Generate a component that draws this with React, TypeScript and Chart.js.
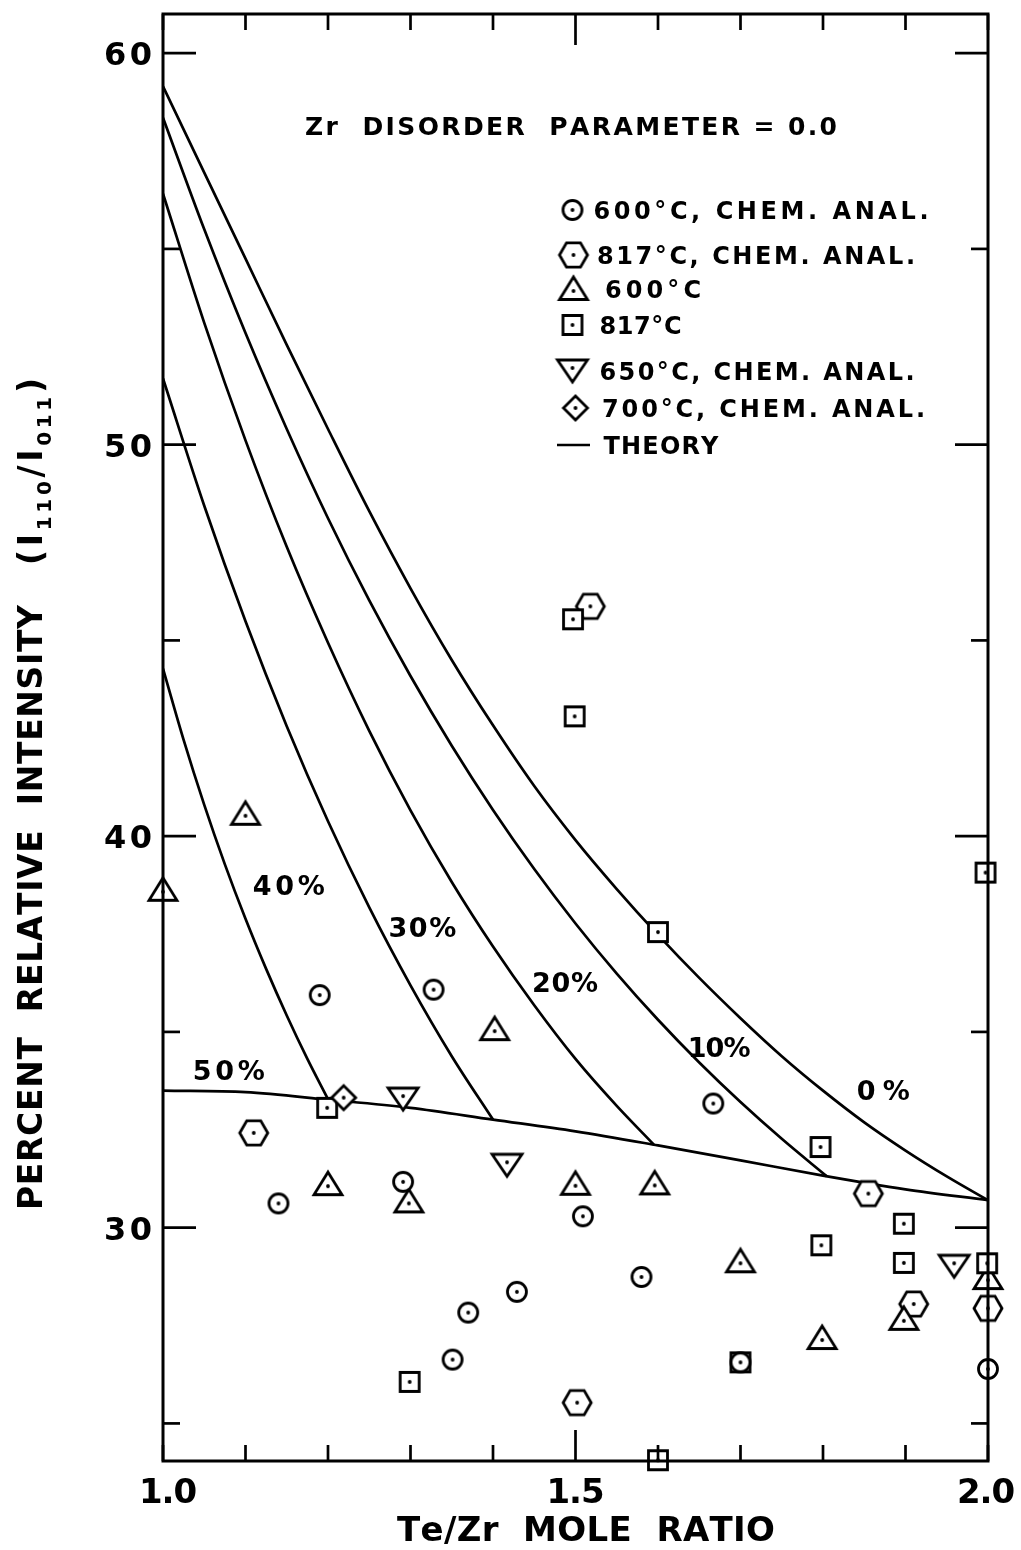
import React, { useEffect, useRef } from "react";
import { Chart, registerables } from "chart.js";

Chart.register(...registerables);

// ---- axes ----
const xTicks = [1.0, 1.1, 1.2, 1.3, 1.4, 1.5, 1.6, 1.7, 1.8, 1.9, 2.0];
const xLabels = [1.0, 1.5, 2.0];
const xLabelText = ["1.0", "1.5", "2.0"];
const yTicks = [25, 30, 35, 40, 45, 50, 55, 60];
const yLabels = [30, 40, 50, 60];

// ---- theory curves (percent Te disorder) ----
const theory0X = [1.0, 1.05, 1.1, 1.15, 1.2, 1.25, 1.3, 1.35, 1.4, 1.45, 1.5, 1.55, 1.6, 1.65, 1.7, 1.75, 1.8, 1.85, 1.9, 1.95, 2.0];
const theory0Y = [59.15, 56.95, 54.75, 52.55, 50.4, 48.3, 46.33, 44.5, 42.83, 41.28, 39.9, 38.65, 37.48, 36.38, 35.35, 34.38, 33.5, 32.69, 31.97, 31.31, 30.7];
const theory10X = [1.0, 1.05, 1.1, 1.15, 1.2, 1.25, 1.3, 1.35, 1.4, 1.45, 1.5, 1.55, 1.6, 1.65, 1.7, 1.75, 1.8047];
const theory10Y = [58.35, 55.5, 52.85, 50.4, 48.12, 46.02, 44.09, 42.31, 40.67, 39.16, 37.77, 36.49, 35.31, 34.22, 33.21, 32.27, 31.31];
const theory20X = [1.0, 1.05, 1.1, 1.15, 1.2, 1.25, 1.3, 1.35, 1.4, 1.45, 1.5, 1.55, 1.595];
const theory20Y = [56.41, 53.11, 50.11, 47.39, 44.94, 42.69, 40.66, 38.83, 37.18, 35.68, 34.31, 33.11, 32.12];
const theory30X = [1.0, 1.05, 1.1, 1.15, 1.2, 1.25, 1.3, 1.35, 1.4];
const theory30Y = [51.69, 48.44, 45.49, 42.81, 40.38, 38.18, 36.19, 34.38, 32.76];
const theory40X = [1.0, 1.025, 1.05, 1.075, 1.1, 1.125, 1.15, 1.175, 1.2];
const theory40Y = [44.28, 42.46, 40.8, 39.28, 37.89, 36.61, 35.42, 34.31, 33.28];
const theory50X = [1.0, 1.1, 1.2, 1.3, 1.4, 1.5, 1.6, 1.7, 1.8, 1.9, 2.0];
const theory50Y = [33.5, 33.46, 33.27, 33.06, 32.76, 32.46, 32.1, 31.72, 31.33, 30.98, 30.7];

const curveLabels = ["0%", "10%", "20%", "30%", "40%", "50%"];
const curveLabelX = [1.873, 1.6741, 1.4873, 1.3144, 1.1525, 1.0797];
const curveLabelY = [33.51, 34.62, 36.28, 37.68, 38.75, 34.03];

// ---- measurements ----
const chem600X = [1.19, 1.328, 1.14, 1.291, 1.509, 1.351, 1.37, 1.429, 1.58, 1.667, 1.7, 2.0];
const chem600Y = [35.94, 36.08, 30.62, 31.17, 30.29, 26.63, 27.83, 28.36, 28.74, 33.17, 26.56, 26.39];
const chem817X = [1.11, 1.518, 1.502, 1.855, 1.91, 2.0];
const chem817Y = [32.42, 45.87, 25.53, 30.87, 28.05, 27.94];
const plain600X = [1.0, 1.1, 1.2, 1.298, 1.402, 1.5, 1.596, 1.7, 1.799, 1.898, 2.0];
const plain600Y = [38.58, 40.52, 31.06, 30.62, 35.02, 31.07, 31.08, 29.09, 27.13, 27.62, 28.66];
const plain817X = [1.199, 1.497, 1.499, 1.6, 1.997, 1.299, 1.6, 1.7, 1.797, 1.798, 1.898, 1.898, 1.999];
const plain817Y = [33.06, 45.54, 43.06, 37.55, 39.07, 26.06, 24.06, 26.56, 32.06, 29.55, 30.1, 29.1, 29.09];
const chem650X = [1.291, 1.417, 1.959];
const chem650Y = [33.36, 31.67, 29.09];
const chem700X = [1.219];
const chem700Y = [33.32];

const FONT = '"DejaVu Sans", sans-serif';

const pts = (xs: number[], ys: number[]) => xs.map((x, i) => ({ x, y: ys[i] }));

type MarkerKind = "circle" | "hexagon" | "triangle" | "invTriangle" | "square" | "diamond";

function makeMarker(kind: MarkerKind): HTMLCanvasElement {
  const s = 40;
  const c = document.createElement("canvas");
  c.width = s;
  c.height = s;
  const g = c.getContext("2d")!;
  g.translate(s / 2, s / 2);
  g.lineWidth = 2.8;
  g.strokeStyle = "#000";
  g.fillStyle = "#fff";
  g.lineJoin = "miter";
  g.beginPath();
  switch (kind) {
    case "circle":
      g.arc(0, 0, 9.5, 0, Math.PI * 2);
      break;
    case "hexagon":
      for (let i = 0; i < 6; i++) {
        const a = (i * Math.PI) / 3;
        const px = 14 * Math.cos(a);
        const py = 14 * Math.sin(a);
        if (i === 0) g.moveTo(px, py);
        else g.lineTo(px, py);
      }
      g.closePath();
      break;
    case "triangle":
      g.moveTo(0, -14);
      g.lineTo(14, 8.5);
      g.lineTo(-14, 8.5);
      g.closePath();
      break;
    case "invTriangle":
      g.moveTo(-15, -8);
      g.lineTo(15, -8);
      g.lineTo(0, 14);
      g.closePath();
      break;
    case "square":
      g.rect(-9.5, -9.5, 19, 19);
      break;
    case "diamond":
      g.moveTo(0, -12);
      g.lineTo(12, 0);
      g.lineTo(0, 12);
      g.lineTo(-12, 0);
      g.closePath();
      break;
  }
  g.fill();
  g.stroke();
  g.beginPath();
  g.arc(0, 0, 1.9, 0, Math.PI * 2);
  g.fillStyle = "#000";
  g.fill();
  return c;
}

// draws text one glyph at a time, spreading the glyphs over (about) the given width
function fitText(
  ctx: CanvasRenderingContext2D,
  text: string,
  x: number,
  baseline: number,
  width: number,
  align: "left" | "center" | "right" = "left"
) {
  const chars = Array.from(text);
  const ws = chars.map((ch) => ctx.measureText(ch).width);
  const nat = ws.reduce((a, b) => a + b, 0);
  const n = chars.length;
  const gap = n > 1 ? Math.max(-1, (width - nat) / (n - 1)) : 0;
  const w = nat + gap * Math.max(0, n - 1);
  let cx = align === "left" ? x : align === "center" ? x - w / 2 : x - w;
  ctx.textAlign = "left";
  ctx.textBaseline = "alphabetic";
  chars.forEach((ch, i) => {
    ctx.fillText(ch, cx, baseline);
    cx += ws[i] + gap;
  });
}

const framePlugin = {
  id: "frame",
  afterDatasetsDraw(chart: any) {
    const { ctx, chartArea: a } = chart;
    const xs = chart.scales.x;
    const ys = chart.scales.y;
    ctx.save();
    ctx.strokeStyle = "#000";
    ctx.lineCap = "butt";
    ctx.lineWidth = 2.7;
    const seg = (x1: number, y1: number, x2: number, y2: number) => {
      ctx.beginPath();
      ctx.moveTo(x1, y1);
      ctx.lineTo(x2, y2);
      ctx.stroke();
    };
    xTicks.forEach((v) => {
      const px = xs.getPixelForValue(v);
      const len = v === 1.5 ? 31 : 16;
      seg(px, a.bottom, px, a.bottom - len);
      seg(px, a.top, px, a.top + len);
    });
    yTicks.forEach((v) => {
      const py = ys.getPixelForValue(v);
      const len = yLabels.includes(v) ? 33 : 17;
      seg(a.left, py, a.left + len, py);
      seg(a.right, py, a.right - len, py);
    });
    ctx.lineWidth = 3;
    ctx.strokeRect(a.left, a.top, a.right - a.left, a.bottom - a.top);
    ctx.restore();
  },
};

function makeLabelsPlugin(markers: Record<MarkerKind, HTMLCanvasElement>) {
  return {
    id: "labels",
    afterDraw(chart: any) {
      const { ctx } = chart;
      const xs = chart.scales.x;
      const ys = chart.scales.y;
      ctx.save();
      ctx.fillStyle = "#000";

      // y tick labels
      ctx.font = `bold 32px ${FONT}`;
      yLabels.forEach((v) => fitText(ctx, String(v), 152, ys.getPixelForValue(v) + 12, 48, "right"));

      // x tick labels
      const xShift = [5, 0, -2];
      const xWidth = [40, 40, 58];
      ctx.font = `bold 34px ${FONT}`;
      xLabels.forEach((v, i) =>
        fitText(ctx, xLabelText[i], xs.getPixelForValue(v) + xShift[i], 1503, xWidth[i], "center")
      );

      // x axis title
      fitText(ctx, "Te/Zr  MOLE  RATIO", 397, 1541, 378);

      // y axis title (rotated)
      ctx.save();
      ctx.translate(42, 1210);
      ctx.rotate(-Math.PI / 2);
      ctx.font = `bold 33px ${FONT}`;
      fitText(ctx, "PERCENT  RELATIVE  INTENSITY", 0, 0, 605);
      const segs: { t: string; sub: boolean }[] = [
        { t: "(", sub: false },
        { t: "I", sub: false },
        { t: "110", sub: true },
        { t: "/", sub: false },
        { t: "I", sub: false },
        { t: "011", sub: true },
        { t: ")", sub: false },
      ];
      const glyphs: { ch: string; sub: boolean; w: number }[] = [];
      segs.forEach((s) => {
        ctx.font = s.sub ? `bold 20px ${FONT}` : `bold 33px ${FONT}`;
        Array.from(s.t).forEach((ch) => glyphs.push({ ch, sub: s.sub, w: ctx.measureText(ch).width }));
      });
      const natural = glyphs.reduce((a, g) => a + g.w, 0);
      const gap = (187 - natural) / (glyphs.length - 1);
      let u = 645;
      glyphs.forEach((g) => {
        ctx.font = g.sub ? `bold 20px ${FONT}` : `bold 33px ${FONT}`;
        ctx.fillText(g.ch, u, g.sub ? 9 : 0);
        u += g.w + gap;
      });
      ctx.restore();

      // heading
      ctx.font = `bold 25px ${FONT}`;
      fitText(ctx, "Zr  DISORDER  PARAMETER = 0.0", 305, 135, 532);

      // curve labels
      const labelW = [53, 58, 66, 68, 72, 72];
      ctx.font = `bold 27px ${FONT}`;
      curveLabels.forEach((t, i) =>
        fitText(ctx, t, xs.getPixelForValue(curveLabelX[i]), ys.getPixelForValue(curveLabelY[i]) + 10, labelW[i], "center")
      );

      // legend
      const ds = chart.data.datasets;
      const rows: { idx: number; kind: MarkerKind | "line"; y: number; mx: number; my: number; tx: number; w: number }[] = [
        { idx: 0, kind: "circle", y: 210, mx: 572.5, my: 0, tx: 593.5, w: 335 },
        { idx: 1, kind: "hexagon", y: 255, mx: 573.5, my: 0, tx: 597, w: 318 },
        { idx: 2, kind: "triangle", y: 288.5, mx: 573.5, my: 2.5, tx: 605, w: 96 },
        { idx: 3, kind: "square", y: 325, mx: 572.5, my: 0, tx: 599.5, w: 82 },
        { idx: 4, kind: "invTriangle", y: 371, mx: 572.5, my: -3, tx: 599.5, w: 315 },
        { idx: 5, kind: "diamond", y: 408, mx: 575.5, my: 0, tx: 602, w: 323 },
        { idx: 6, kind: "line", y: 445, mx: 0, my: 0, tx: 603.5, w: 115 },
      ];
      ctx.font = `bold 24px ${FONT}`;
      rows.forEach((r) => {
        if (r.kind === "line") {
          ctx.lineWidth = 2.7;
          ctx.strokeStyle = "#000";
          ctx.beginPath();
          ctx.moveTo(557, r.y);
          ctx.lineTo(590, r.y);
          ctx.stroke();
        } else {
          const img = markers[r.kind];
          ctx.drawImage(img, r.mx - img.width / 2, r.y + r.my - img.height / 2);
        }
        fitText(ctx, ds[r.idx].label, r.tx, r.y + 9, r.w);
      });

      ctx.restore();
    },
  };
}

export default function App() {
  const ref = useRef<HTMLCanvasElement | null>(null);

  useEffect(() => {
    if (!ref.current) return;
    const markers: Record<MarkerKind, HTMLCanvasElement> = {
      circle: makeMarker("circle"),
      hexagon: makeMarker("hexagon"),
      triangle: makeMarker("triangle"),
      invTriangle: makeMarker("invTriangle"),
      square: makeMarker("square"),
      diamond: makeMarker("diamond"),
    };

    const markerSet = (label: string, xs: number[], ys: number[], kind: MarkerKind, order: number) => ({
      label,
      data: pts(xs, ys),
      showLine: false,
      pointStyle: markers[kind],
      pointRadius: 10,
      pointHoverRadius: 10,
      clip: false as any,
      order,
    });

    const curve = (label: string, xs: number[], ys: number[]) => ({
      label,
      data: pts(xs, ys),
      showLine: true,
      pointRadius: 0,
      borderColor: "#000",
      borderWidth: 2.7,
      cubicInterpolationMode: "monotone" as const,
      fill: false,
      order: 20,
    });

    const chart = new Chart(ref.current, {
      type: "scatter",
      data: {
        datasets: [
          markerSet("600°C, CHEM. ANAL.", chem600X, chem600Y, "circle", 0),
          markerSet("817°C, CHEM. ANAL.", chem817X, chem817Y, "hexagon", 3),
          markerSet("600°C", plain600X, plain600Y, "triangle", 2),
          markerSet("817°C", plain817X, plain817Y, "square", 1),
          markerSet("650°C, CHEM. ANAL.", chem650X, chem650Y, "invTriangle", 2),
          markerSet("700°C, CHEM. ANAL.", chem700X, chem700Y, "diamond", 0),
          curve("THEORY", theory0X, theory0Y),
          curve("10%", theory10X, theory10Y),
          curve("20%", theory20X, theory20Y),
          curve("30%", theory30X, theory30Y),
          curve("40%", theory40X, theory40Y),
          curve("50%", theory50X, theory50Y),
        ] as any,
      },
      options: {
        animation: false,
        responsive: false,
        devicePixelRatio: 1,
        events: [],
        layout: { padding: { left: 0, right: 33, top: 14, bottom: 0 } },
        plugins: { legend: { display: false }, tooltip: { enabled: false } },
        scales: {
          x: {
            type: "linear",
            min: 1.0,
            max: 2.0,
            grid: { display: false },
            border: { display: false },
            ticks: { display: false },
            afterFit: (s: any) => {
              s.height = 89;
            },
          },
          y: {
            type: "linear",
            min: 24.04,
            max: 61.0,
            grid: { display: false },
            border: { display: false },
            ticks: { display: false },
            afterFit: (s: any) => {
              s.width = 163;
            },
          },
        },
      } as any,
      plugins: [framePlugin, makeLabelsPlugin(markers)],
    });

    return () => chart.destroy();
  }, []);

  return (
    <div style={{ position: "absolute", left: 0, top: 0, width: 1021, height: 1550, background: "#fff" }}>
      <canvas ref={ref} width={1021} height={1550} style={{ display: "block", width: 1021, height: 1550 }} />
    </div>
  );
}
